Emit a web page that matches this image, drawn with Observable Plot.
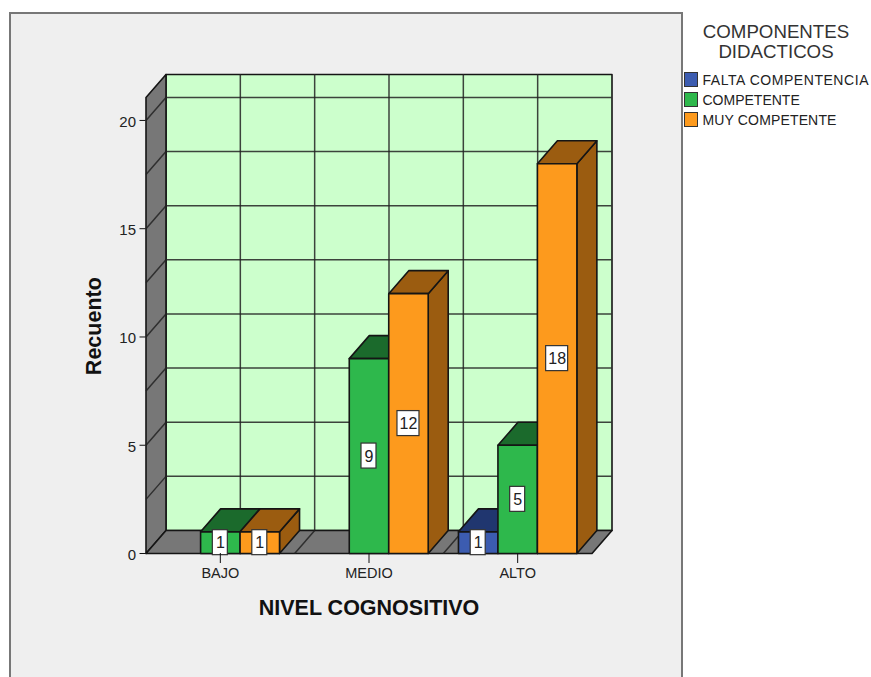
<!DOCTYPE html>
<html lang="es">
<head>
<meta charset="utf-8">
<title>Recuento por nivel cognositivo</title>
<script src="https://cdn.jsdelivr.net/npm/d3@7"></script>
<script src="https://cdn.jsdelivr.net/npm/@observablehq/plot@0.6"></script>
<style>
  html, body { margin: 0; padding: 0; background: #fff; overflow: hidden; }
  body { width: 871px; height: 677px; position: relative; font-family: "Liberation Sans", Arial, sans-serif; color: #222; }
  #panel { position: absolute; left: 9px; top: 12px; width: 670px; height: 680px; background: #efefef; border: 2px solid #777; box-sizing: content-box; }
  #chart { position: absolute; left: 0; top: 0; }
  #legend { position: absolute; left: 684px; top: 0; width: 187px; }
  #legend .title { position: absolute; left: 0; width: 184px; top: 22px; text-align: center; font-size: 18.7px; line-height: 19.5px; color: #333; }
  #legend .item { position: absolute; left: 0; height: 15px; display: flex; align-items: center; white-space: nowrap; font-size: 14px; }
  #legend .swatch { width: 12px; height: 13px; border: 1.5px solid #333; margin-right: 4.5px; flex: none; }
</style>
</head>
<body>
<div id="panel"></div>
<div id="chart"></div>
<div id="legend"></div>
<script>
// Categories and counts
const levels = ["BAJO", "MEDIO", "ALTO"];
const seriesNames = ["FALTA COMPENTENCIA", "COMPETENTE", "MUY COMPETENTE"];
const faltaCompetencia = [0, 0, 1];
const competente = [1, 9, 5];
const muyCompetente = [1, 12, 18];
const countTicks = [0, 5, 10, 15, 20];
const gridStep = 2.5;

// Face colours per series: front, then top and side
const frontColors = ["#3c5cb0", "#2eb84c", "#fd9a1d"];
const shadeColors = ["#20366f", "#1b6a2c", "#9b5c10"];
const legendTracking = ["0.55px", "0", "0.15px"];

// Extent of the box: the oblique depth is expressed in axis units
const depthX = 0.1345;
const depthY = 1.062;
const topCount = 21.06;
const barWidth = 0.2655;
const columns = [faltaCompetencia, competente, muyCompetente];

const outline = {stroke: "#151515", strokeWidth: 1.6, strokeLinejoin: "round", curve: "linear-closed"};
const face = (points, fill, extra = {}) =>
  Plot.line(points.map(([x, y]) => ({x, y})), {x: "x", y: "y", fill, ...outline, ...extra});

// Chart pixels per axis unit, used to size the value boxes
const unitX = 3.1345 / 466;
const unitY = 22.122 / 479;

// Back wall, side wall and floor of the box
const marks = [
  face([[depthX, depthY], [3 + depthX, depthY], [3 + depthX, topCount + depthY], [depthX, topCount + depthY]], "#ccffcc"),
  face([[0, 0], [depthX, depthY], [depthX, topCount + depthY], [0, topCount]], "#777777"),
  face([[0, 0], [3, 0], [3 + depthX, depthY], [depthX, depthY]], "#777777")
];

// Grid on the walls and floor
const gridCounts = d3.range(gridStep, topCount, gridStep);
const gridColumns = d3.range(0.5, 3, 0.5);
const gridStyle = {stroke: "#222", strokeWidth: 1.5, strokeOpacity: 0.85};
marks.push(
  Plot.ruleY(gridCounts, {y: (d) => d + depthY, x1: depthX, x2: 3 + depthX, ...gridStyle}),
  Plot.ruleX(gridColumns, {x: (d) => d + depthX, y1: depthY, y2: topCount + depthY, ...gridStyle}),
  Plot.link(gridCounts, {x1: 0, y1: (d) => d, x2: depthX, y2: (d) => d + depthY, ...gridStyle}),
  Plot.link(gridColumns, {x1: (d) => d, y1: 0, x2: (d) => d + depthX, y2: depthY, ...gridStyle})
);

// Bars, painted left to right so nearer faces overlap their neighbours
const labelRows = [];
levels.forEach((level, i) => {
  columns.forEach((values, s) => {
    const v = values[i];
    if (!v) return;
    const x0 = i + 0.5 + (s - 1.5) * barWidth;
    const x1 = x0 + barWidth;
    marks.push(
      face([[x1, 0], [x1 + depthX, depthY], [x1 + depthX, v + depthY], [x1, v]], shadeColors[s]),
      face([[x0, v], [x1, v], [x1 + depthX, v + depthY], [x0 + depthX, v + depthY]], shadeColors[s]),
      face([[x0, 0], [x1, 0], [x1, v], [x0, v]], frontColors[s])
    );
    labelRows.push({x: (x0 + x1) / 2, y: v / 2, v});
  });
});

// Value boxes centred on each bar's front face
marks.push(
  Plot.rect(labelRows, {
    x1: (d) => d.x - (d.v > 9 ? 11 : 7.5) * unitX,
    x2: (d) => d.x + (d.v > 9 ? 11 : 7.5) * unitX,
    y1: (d) => d.y - 12.5 * unitY,
    y2: (d) => d.y + 12.5 * unitY,
    fill: "#fff", stroke: "#333", strokeWidth: 1.2
  }),
  Plot.text(labelRows, {x: "x", y: "y", text: (d) => String(d.v), fontSize: 16, fill: "#222", dy: 0.5})
);

// Axes and titles
marks.push(
  Plot.axisY({ticks: countTicks, tickSize: 6, tickFormat: () => "", label: null, stroke: "#111"}),
  Plot.text(countTicks, {x: 0, y: (d) => d, dx: -10, dy: 1.5, textAnchor: "end", fontSize: 15, fill: "#222", text: (d) => String(d)}),
  Plot.axisX({ticks: [0.5, 1.5, 2.5], tickFormat: (d) => levels[Math.floor(d)], tickSize: 10, tickPadding: 4, fontSize: 14.5, label: null, stroke: "#111", color: "#222"}),
  Plot.text(["Recuento"], {x: 0, y: 10.5, dx: -52, rotate: -90, fontSize: 21.5, fontWeight: "bold", fill: "#111"}),
  Plot.text(["NIVEL COGNOSITIVO"], {x: 1.5, y: 0, dy: 55, fontSize: 21.5, fontWeight: "bold", fill: "#111"})
);

const chart = Plot.plot({
  width: 871,
  height: 677,
  marginLeft: 145.5,
  marginRight: 259.5,
  marginTop: 74,
  marginBottom: 124,
  x: {domain: [0, 3 + depthX]},
  y: {domain: [0, topCount + depthY]},
  style: {background: "transparent", fontFamily: "'Liberation Sans', Arial, sans-serif"},
  marks
});
document.getElementById("chart").append(chart);

// Legend beside the panel
const legend = document.getElementById("legend");
const title = document.createElement("div");
title.className = "title";
title.innerHTML = "COMPONENTES<br>DIDACTICOS";
legend.append(title);
seriesNames.forEach((name, s) => {
  const item = document.createElement("div");
  item.className = "item";
  item.style.top = `${72 + s * 20}px`;
  item.style.letterSpacing = legendTracking[s];
  const swatch = document.createElement("span");
  swatch.className = "swatch";
  swatch.style.background = frontColors[s];
  item.append(swatch, name);
  legend.append(item);
});
</script>
</body>
</html>
